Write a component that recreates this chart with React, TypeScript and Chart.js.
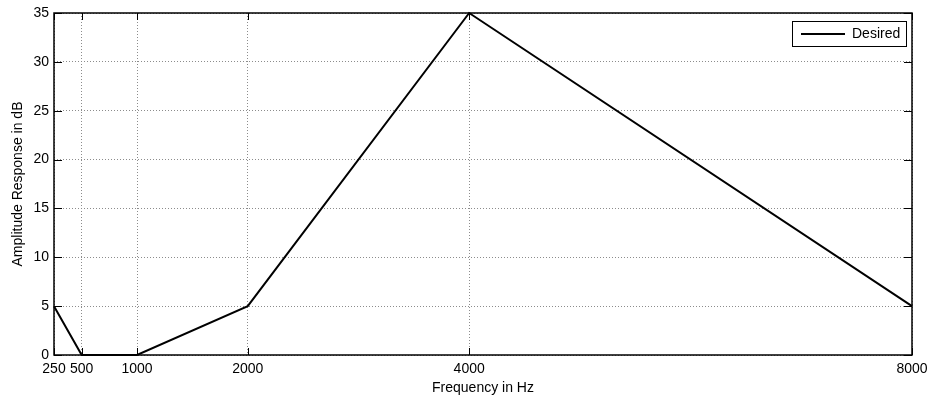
import React, { useEffect, useRef } from "react";
import { Chart, registerables } from "chart.js";

Chart.register(...registerables);

const frequencies = [250, 500, 1000, 2000, 4000, 8000];
const desired = [5, 0, 0, 5, 35, 5];
const xTicks = [250, 500, 1000, 2000, 4000, 8000];
const yTicks = [0, 5, 10, 15, 20, 25, 30, 35];
const seriesLabel = "Desired";
const xTitle = "Frequency in Hz";
const yTitle = "Amplitude Response in dB";

const FONT = "'Liberation Sans', Arial, Helvetica, sans-serif";

const framePlugin = {
  id: "frame",
  beforeDatasetsDraw(chart: any) {
    const { ctx, chartArea, scales } = chart;
    const { left, right, top, bottom } = chartArea;
    ctx.save();
    ctx.strokeStyle = "#000";
    ctx.lineWidth = 1;
    ctx.beginPath();
    for (const v of xTicks) {
      const x = Math.round(scales.x.getPixelForValue(v)) + 0.5;
      ctx.moveTo(x, bottom);
      ctx.lineTo(x, bottom - 7);
      ctx.moveTo(x, top);
      ctx.lineTo(x, top + 7);
    }
    for (const v of yTicks) {
      const y = Math.round(scales.y.getPixelForValue(v)) + 0.5;
      ctx.moveTo(left, y);
      ctx.lineTo(left + 8, y);
      ctx.moveTo(right, y);
      ctx.lineTo(right - 8, y);
    }
    ctx.stroke();
    ctx.lineWidth = 1.5;
    ctx.strokeRect(left, top, right - left, bottom - top);
    ctx.restore();
  },
  afterDatasetsDraw(chart: any) {
    const { ctx, chartArea } = chart;
    const w = 114;
    const h = 25;
    const x0 = chartArea.right - 6 - w;
    const y0 = chartArea.top + 8;
    ctx.save();
    ctx.fillStyle = "#fff";
    ctx.fillRect(x0, y0, w, h);
    ctx.strokeStyle = "#000";
    ctx.lineWidth = 1;
    ctx.strokeRect(x0 + 0.5, y0 + 0.5, w, h);
    ctx.lineWidth = 2;
    ctx.beginPath();
    ctx.moveTo(x0 + 9, y0 + h / 2 + 0.5);
    ctx.lineTo(x0 + 53, y0 + h / 2 + 0.5);
    ctx.stroke();
    ctx.fillStyle = "#000";
    ctx.font = `14px ${FONT}`;
    ctx.textBaseline = "middle";
    ctx.textAlign = "left";
    ctx.fillText(chart.data.datasets[0].label, x0 + 60, y0 + h / 2 + 1);
    ctx.restore();
  },
};

export default function App() {
  const ref = useRef<HTMLCanvasElement>(null);
  useEffect(() => {
    document.body.style.margin = "0";
    const canvas = ref.current!;
    const chart = new Chart(canvas, {
      type: "line",
      data: {
        datasets: [
          {
            label: seriesLabel,
            data: frequencies.map((f, i) => ({ x: f, y: desired[i] })),
            borderColor: "#000",
            borderWidth: 2,
            pointRadius: 0,
            tension: 0,
            clip: false as any,
          },
        ],
      },
      options: {
        animation: false,
        responsive: false,
        devicePixelRatio: 1,
        layout: { padding: { top: 13, right: 18, left: 0, bottom: 0 } },
        plugins: { legend: { display: false }, tooltip: { enabled: false } },
        scales: {
          x: {
            type: "linear",
            min: 250,
            max: 8000,
            afterBuildTicks(scale: any) {
              scale.ticks = xTicks.map((v) => ({ value: v }));
            },
            afterFit(scale: any) {
              scale.height = 46;
              scale.paddingLeft = 0;
              scale.paddingRight = 0;
            },
            grid: { color: "#8c8c8c", lineWidth: 1, drawTicks: false },
            border: { display: false, dash: [1, 2] },
            ticks: {
              color: "#000",
              padding: 6,
              maxRotation: 0,
              autoSkip: false,
              font: { family: FONT, size: 14 },
              callback: (v: any) => String(v),
            },
            title: {
              display: true,
              text: xTitle,
              color: "#000",
              font: { family: FONT, size: 14 },
              padding: { top: 0, bottom: 4 },
            },
          },
          y: {
            min: 0,
            max: 35,
            afterBuildTicks(scale: any) {
              scale.ticks = yTicks.map((v) => ({ value: v }));
            },
            afterFit(scale: any) {
              scale.width = 54;
              scale.paddingTop = 0;
              scale.paddingBottom = 0;
            },
            grid: { color: "#8c8c8c", lineWidth: 1, drawTicks: false },
            border: { display: false, dash: [1, 2] },
            ticks: {
              color: "#000",
              padding: 5,
              font: { family: FONT, size: 14 },
              callback: (v: any) => String(v),
            },
            title: {
              display: true,
              text: yTitle,
              color: "#000",
              font: { family: FONT, size: 14 },
              padding: { top: 10, bottom: 0 },
            },
          },
        },
      },
      plugins: [framePlugin],
    });
    return () => chart.destroy();
  }, []);
  return (
    <div style={{ position: "absolute", left: 0, top: 0, width: 930, height: 401 }}>
      <canvas ref={ref} width={930} height={401} />
    </div>
  );
}
